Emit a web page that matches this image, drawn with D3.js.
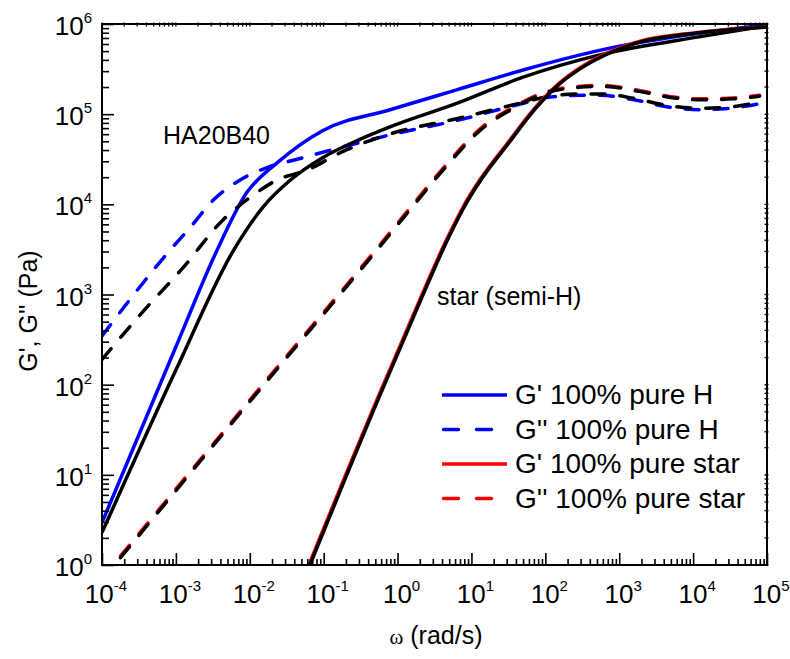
<!DOCTYPE html>
<html lang="en">
<head>
  <meta charset="utf-8" />
  <style>
    body { margin: 0; background: #fff; }
    svg text { font-family: "Liberation Sans", Arial, sans-serif; fill: #000; }
    .curve { fill: none; stroke-width: 3.5px; stroke-linejoin: round; }
    .dash { stroke-dasharray: 14 15; stroke-linecap: round; }
    .key-dash { stroke-dasharray: 15 18; stroke-linecap: round; }
    .axis path { display: none; }
    .axis line { stroke: #000; stroke-width: 1.6px; }
  </style>
</head>
<body>
<svg width="790" height="659"></svg>
<script src="https://d3js.org/d3.v7.min.js"></script>
<script>
// storage (G') and loss (G'') moduli, [omega rad/s, modulus Pa]
var gpPureH = [[1e-4, 2.95], [1e-3, 263], [0.0036, 3090], [0.0091, 13500], [0.0234, 28800],
  [0.098, 66000], [0.79, 112000], [6.3, 186000], [50, 309000], [560, 513000], [12600, 794000], [1e5, 977000]];
var gppPureH = [[1e-4, 347], [0.00083, 3090], [0.00155, 5500], [0.00316, 11000], [0.0074, 18600],
  [0.0174, 25700], [0.0437, 31600], [0.123, 39800], [0.79, 58900], [6.3, 85100], [50, 131800],
  [118, 154900], [331, 162200], [562, 162200], [1585, 144500], [4570, 120200], [12600, 112200],
  [35500, 117500], [83200, 131800]];
var gpPureStar = [[0.0501, 0.631], [0.537, 70.8], [1.585, 562], [4.68, 4170], [7.94, 9770],
  [13.2, 19050], [30.9, 47900], [69.2, 112200], [148, 213800], [302, 331100], [1585, 616600],
  [12600, 812800], [1e5, 933000]];
var gppPureStar = [[1e-4, 0.708], [0.01, 67.6], [0.537, 3310], [1.62, 10000], [4.68, 28200],
  [13.2, 69200], [37.2, 120200], [95.5, 173800], [302, 204200], [562, 208900], [1950, 182000],
  [5500, 154900], [12600, 147900], [35500, 151400], [79400, 162200]];

// HA20B40 blend
var gpBlend = [[1e-4, 2.29], [1e-3, 145], [0.00603, 3090], [0.0151, 9330], [0.0355, 18600],
  [0.098, 33100], [0.288, 51300], [0.79, 72400], [6.3, 131800], [50, 257000], [562, 457000],
  [12600, 724000], [1e5, 955000]];
var gppBlend = [[1e-4, 190], [0.000316, 575], [0.00126, 2000], [0.00437, 6760], [0.0102, 12000],
  [0.0234, 18600], [0.0603, 24000], [0.166, 37200], [0.79, 60300], [6.3, 89100], [50, 134900],
  [118, 158500], [331, 167900], [562, 167900], [1585, 149600], [4570, 124500], [12600, 116100],
  [35500, 121600], [83200, 136500]];

// star (semi-H)
var gpStar = [[0.0519, 0.631], [0.556, 70.8], [1.64, 562], [4.84, 4170], [8.22, 9770], [13.7, 19050],
  [32, 47900], [71.6, 112200], [153, 213800], [313, 328000], [1640, 610000], [13000, 805000], [1e5, 925000]];
var gppStar = [[1e-4, 0.679], [0.01, 64.9], [0.537, 3175], [1.62, 9590], [4.68, 27050],
  [13.2, 66400], [37.2, 116500], [95.5, 169000], [302, 199500], [562, 204200], [1950, 177800],
  [5500, 151400], [12600, 144500], [35500, 147900], [79400, 158500]];

var xDecades = d3.range(-4, 6);
var yDecades = d3.range(0, 7);

var series = [
  { data: gppPureH, color: "#0000ff", dashed: true },
  { data: gpPureH, color: "#0000ff", dashed: false },
  { data: gppBlend, color: "#000", dashed: true },
  { data: gpBlend, color: "#000", dashed: false },
  { data: gppPureStar, color: "#ff0000", dashed: true },
  { data: gpPureStar, color: "#ff0000", dashed: false },
  { data: gppStar, color: "#000", dashed: true },
  { data: gpStar, color: "#000", dashed: false }
];

var legendItems = [
  { label: "G' 100% pure H", color: "#0000ff", dashed: false },
  { label: "G'' 100% pure H", color: "#0000ff", dashed: true },
  { label: "G' 100% pure star", color: "#ff0000", dashed: false },
  { label: "G'' 100% pure star", color: "#ff0000", dashed: true }
];

var plotLeft = 102, plotRight = 767, plotTop = 24, plotBottom = 565;

var svg = d3.select("svg");

var x = d3.scaleLog().domain([1e-4, 1e5]).range([plotLeft, plotRight]);
var y = d3.scaleLog().domain([1, 1e6]).range([plotBottom, plotTop]);

function minorTicks(decades) {
  var out = [];
  decades.slice(0, -1).forEach(function(e) {
    for (var m = 2; m <= 9; m++) out.push(m * Math.pow(10, e));
  });
  return out;
}
var xMajor = xDecades.map(function(e) { return Math.pow(10, e); }),
    yMajor = yDecades.map(function(e) { return Math.pow(10, e); }),
    xMinor = minorTicks(xDecades),
    yMinor = minorTicks(yDecades);

svg.append("clipPath").attr("id", "plot")
  .append("rect").attr("x", plotLeft).attr("y", plotTop)
  .attr("width", plotRight - plotLeft).attr("height", plotBottom - plotTop);

var line = d3.line()
  .x(function(d) { return x(d[0]); })
  .y(function(d) { return y(d[1]); })
  .curve(d3.curveMonotoneX);

svg.append("g").attr("clip-path", "url(#plot)")
  .selectAll("path")
  .data(series)
  .join("path")
    .attr("class", function(d) { return d.dashed ? "curve dash" : "curve"; })
    .attr("stroke", function(d) { return d.color; })
    .attr("d", function(d) { return line(d.data); });

// inward ticks on bottom and left
svg.append("g").attr("class", "axis").attr("transform", "translate(0," + plotBottom + ")")
  .call(d3.axisBottom(x).tickValues(xMajor).tickSize(-12).tickFormat(""));
svg.append("g").attr("class", "axis").attr("transform", "translate(0," + plotBottom + ")")
  .call(d3.axisBottom(x).tickValues(xMinor).tickSize(-6).tickFormat(""));
svg.append("g").attr("class", "axis").attr("transform", "translate(" + plotLeft + ",0)")
  .call(d3.axisLeft(y).tickValues(yMajor).tickSize(-12).tickFormat(""));
svg.append("g").attr("class", "axis").attr("transform", "translate(" + plotLeft + ",0)")
  .call(d3.axisLeft(y).tickValues(yMinor).tickSize(-7).tickFormat(""));

// small ticks on top and right
svg.append("g").selectAll("line")
  .data(xMajor.concat(xMinor))
  .join("line")
    .attr("x1", function(d) { return x(d); }).attr("x2", function(d) { return x(d); })
    .attr("y1", plotTop - 1.5).attr("y2", plotTop + 2.5)
    .attr("stroke", "#000").attr("stroke-width", 1.3);
svg.append("g").selectAll("line")
  .data(yMajor.concat(yMinor))
  .join("line")
    .attr("y1", function(d) { return y(d); }).attr("y2", function(d) { return y(d); })
    .attr("x1", plotRight - 2.5).attr("x2", plotRight + 1.5)
    .attr("stroke", "#000").attr("stroke-width", 1.3);

svg.append("rect")
  .attr("x", plotLeft).attr("y", plotTop)
  .attr("width", plotRight - plotLeft).attr("height", plotBottom - plotTop)
  .attr("fill", "none").attr("stroke", "#000").attr("stroke-width", 2);

// power-of-ten labels
function powLabel(sel, e) {
  sel.append("tspan").text("10");
  sel.append("tspan").attr("dy", -12).attr("font-size", 15).text(e);
}

svg.append("g").selectAll("text")
  .data(xDecades)
  .join("text")
    .attr("x", function(d) { return x(Math.pow(10, d)) + 4; })
    .attr("y", plotBottom + 38)
    .attr("text-anchor", "middle")
    .attr("font-size", 26)
    .each(function(d) { powLabel(d3.select(this), d); });

svg.append("g").selectAll("text")
  .data(yDecades)
  .join("text")
    .attr("x", plotLeft - 10)
    .attr("y", function(d) { return y(Math.pow(10, d)) + 11; })
    .attr("text-anchor", "end")
    .attr("font-size", 26)
    .each(function(d) { powLabel(d3.select(this), d); });

// axis titles
var xTitle = svg.append("text")
  .attr("x", 436).attr("y", 644)
  .attr("text-anchor", "middle").attr("font-size", 25);
xTitle.append("tspan").style("font-family", "'Liberation Serif', serif").attr("font-size", 21).text("\u03c9");
xTitle.append("tspan").text(" (rad/s)");

svg.append("text")
  .attr("transform", "translate(37,311) rotate(-90)")
  .attr("text-anchor", "middle").attr("font-size", 25)
  .text("G', G'' (Pa)");

// annotations
svg.append("text").attr("x", 163).attr("y", 144).attr("font-size", 25).text("HA20B40");
svg.append("text").attr("x", 437).attr("y", 305).attr("font-size", 25).text("star (semi-H)");

// legend
var legend = svg.append("g").selectAll("g")
  .data(legendItems)
  .join("g")
    .attr("transform", function(d, i) { return "translate(442," + (395 + i * 34.5) + ")"; });

legend.append("line")
  .attr("x1", function(d) { return d.dashed ? 1.5 : 0; })
  .attr("x2", function(d) { return d.dashed ? 50 : 65; })
  .attr("class", function(d) { return d.dashed ? "curve key-dash" : "curve"; })
  .attr("stroke", function(d) { return d.color; });

legend.append("text")
  .attr("x", 73).attr("y", 9)
  .attr("font-size", 28)
  .text(function(d) { return d.label; });
</script>
</body>
</html>
